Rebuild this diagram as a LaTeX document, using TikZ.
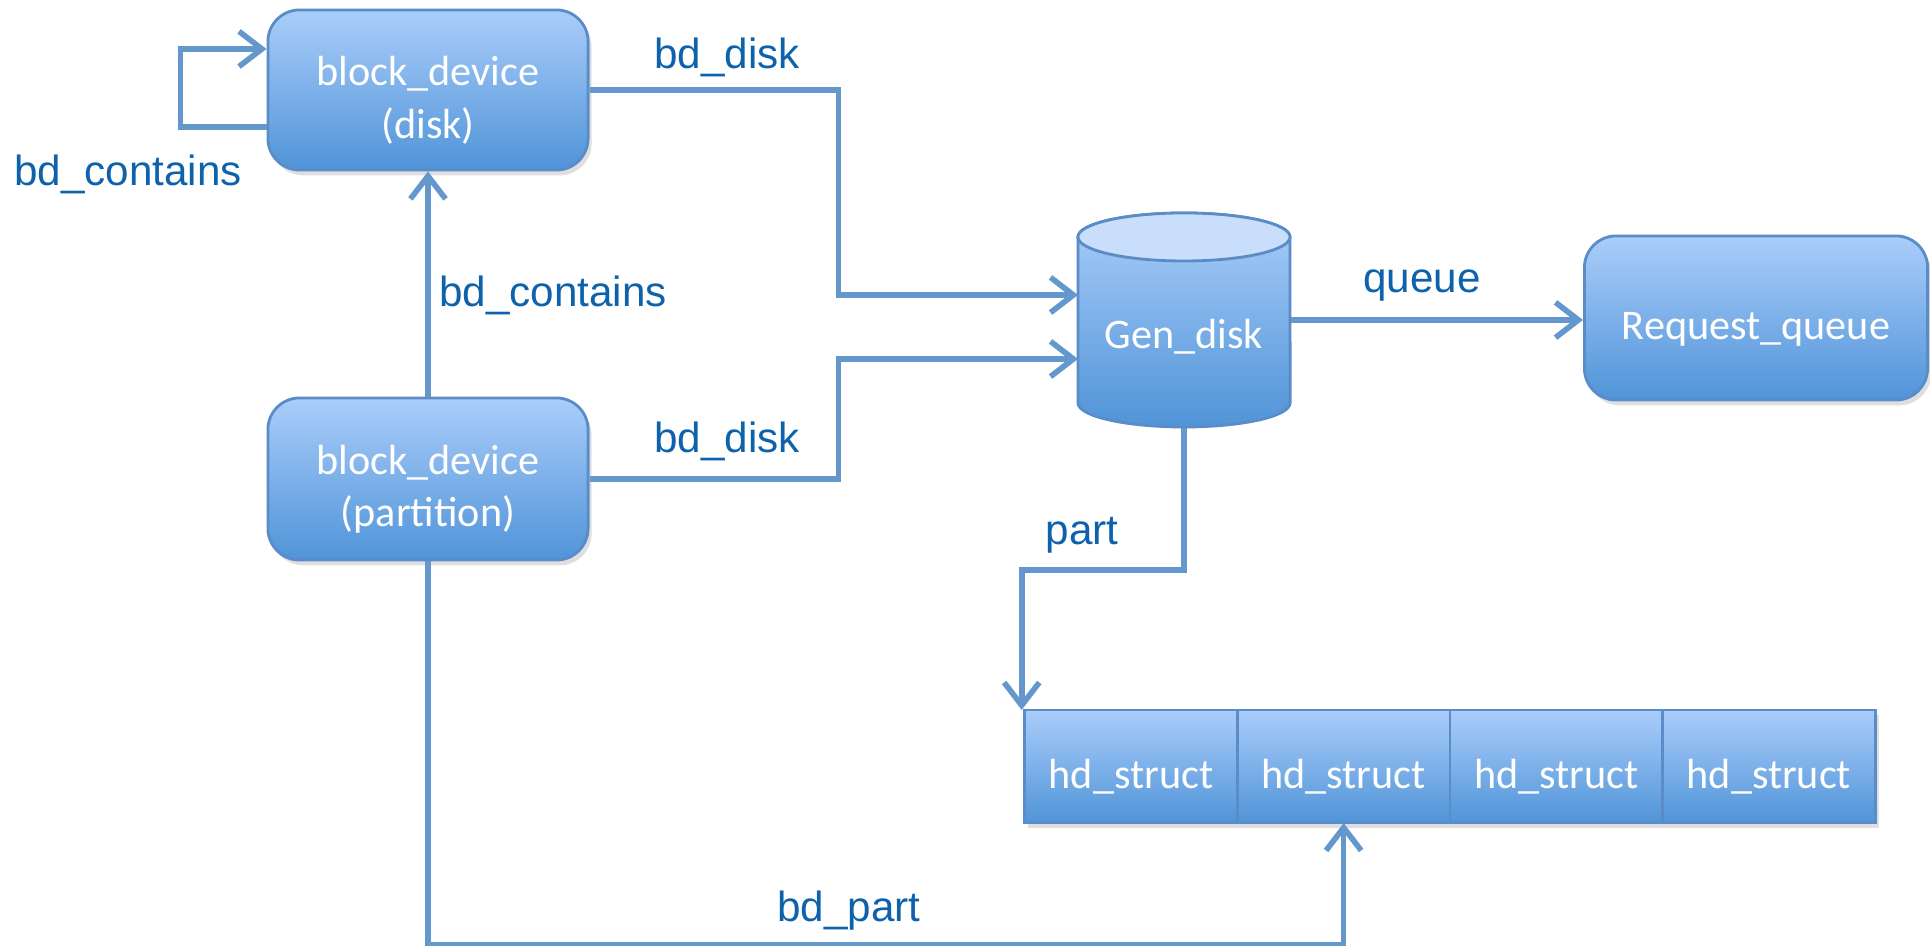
\documentclass[tikz,border=0pt]{standalone}
\usepackage{fontspec}
\setmainfont{Carlito}
\newfontfamily\arialfont{Liberation Sans}
\usetikzlibrary{arrows.meta,positioning,shadows}

\definecolor{boxtop}{RGB}{170,205,250}
\definecolor{boxbot}{RGB}{80,148,216}
\definecolor{boxline}{RGB}{90,140,200}
\definecolor{linkcol}{RGB}{100,152,205}
\definecolor{lblcol}{RGB}{14,98,172}
\definecolor{cyltop}{RGB}{200,222,250}

% pushes the box text a little down, as in the slide
\newcommand{\boxstrut}{\rule{0pt}{0.5cm}}

\tikzset{
  devbox/.style={draw=boxline, line width=0.8pt, rounded corners=9pt,
    top color=boxtop, bottom color=boxbot, text=white, align=center,
    font=\fontsize{12}{15}\selectfont,
    drop shadow={shadow xshift=1pt, shadow yshift=-1.5pt, opacity=0.25}},
  cell/.style={draw=boxline, line width=0.8pt, outer sep=0pt,
    top color=boxtop, bottom color=boxbot, text=white,
    minimum width=2.125cm, minimum height=1.13cm,
    font=\fontsize{12}{15}\selectfont,
    drop shadow={shadow xshift=1pt, shadow yshift=-1.5pt, opacity=0.25}},
  link/.style={draw=linkcol, line width=1.6pt, -{Straight Barb[length=6.5pt,width=10pt]}},
  lbl/.style={text=lblcol, font=\arialfont\fontsize{12}{14}\selectfont},
}

\begin{document}
\begin{tikzpicture}[x=0.01cm, y=0.01cm]
\useasboundingbox (0,0) rectangle (1930,946);

% the two block devices
\node[devbox, minimum width=3.2cm, minimum height=1.6cm] (disk) at (428,856) {\boxstrut block\_device\\(disk)};
\node[devbox, minimum width=3.2cm, minimum height=1.62cm] (partn) at (428,467) {\boxstrut block\_device\\(partition)};

% Gen_disk as a cylinder
\node[inner sep=0pt, minimum width=2.12cm, minimum height=2.14cm] (gen) at (1184,626) {};
\draw[boxline, line width=0.8pt, top color=boxtop, bottom color=boxbot]
  (1078,709) -- (1078,543) arc[start angle=180, end angle=360, x radius=1.06cm, y radius=0.24cm]
  -- (1290,709) arc[start angle=0, end angle=180, x radius=1.06cm, y radius=0.24cm] -- cycle;
\draw[boxline, line width=0.8pt, fill=cyltop] (1184,709) ellipse [x radius=1.06cm, y radius=0.24cm];
\node[text=white, font=\fontsize{12}{15}\selectfont] (gentxt) at (1184,609) {Gen\_disk};

\node[devbox, minimum width=3.43cm, minimum height=1.64cm] (req) at (1756,628) {\boxstrut Request\_queue};

% row of hd_struct
\node[cell] (hd1) at (1131,179.5) {\boxstrut hd\_struct};
\node[cell, right=0pt of hd1] (hd2) {\boxstrut hd\_struct};
\node[cell, right=0pt of hd2] (hd3) {\boxstrut hd\_struct};
\node[cell, right=0pt of hd3] (hd4) {\boxstrut hd\_struct};

% where the two bd_disk links meet Gen_disk
\coordinate (genin1) at (1078,651);
\coordinate (genin2) at (1078,587);

% connectors
\draw[link] ([yshift=-0.37cm]disk.west) -- ++(-86,0) |- ([yshift=0.41cm]disk.west);
\draw[link] (disk.east) -- ++(249,0) |- (genin1);
\draw[link] (partn.east) -- ++(249,0) |- (genin2);
\draw[link] (partn.north) -- (disk.south);
\draw[link] (gen.east) -- (gen.east -| req.west);
\draw[link] (gen.south) -- ++(0,-142) -| ([xshift=-0.03cm]hd1.north west);
\draw[link] (partn.south) -- ++(0,-383) -| (hd2.south);

% labels
\node[lbl] (l1) at (128,772) {bd\_contains};
\node[lbl] (l2) at (727,889) {bd\_disk};
\node[lbl] (l3) at (553,651) {bd\_contains};
\node[lbl] (l4) at (727,505) {bd\_disk};
\node[lbl] (l5) at (1422,660) {queue};
\node[lbl] (l6) at (1082,411) {part};
\node[lbl] (l7) at (849,35) {bd\_part};

\end{tikzpicture}
\end{document}
